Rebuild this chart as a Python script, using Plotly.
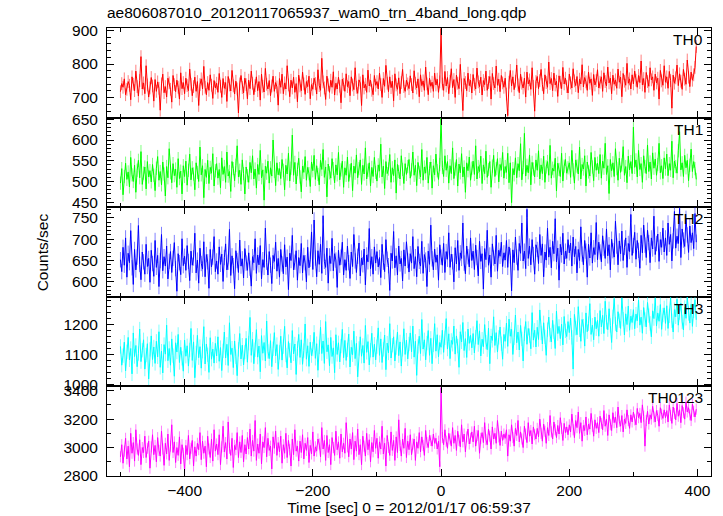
import plotly.graph_objects as go
from plotly.subplots import make_subplots

# ---- data (2 s bins starting at -500 s) ----
T_START = -500
T_STEP = 2

TH0 = [
    718, 742, 731, 756, 709, 725, 748, 737, 694, 762, 740, 721, 779, 733, 705, 751, 822, 726, 744, 712, 795, 738, 702, 729, 760,
    735, 690, 754, 719, 747, 728, 663, 741, 770, 715, 733, 702, 758, 744, 725, 687, 766, 739, 718, 752, 731, 696, 774, 727, 745,
    712, 758, 736, 721, 785, 740, 706, 733, 761, 719, 748, 677, 739, 756, 726, 793, 731, 709, 745, 722, 768, 737, 698, 751, 729,
    743, 716, 772, 734, 701, 757, 728, 745, 689, 763, 738, 720, 781, 735, 711, 749, 726, 655, 741, 766, 730, 714, 758, 739, 697,
    752, 727, 779, 743, 709, 736, 762, 721, 748, 693, 770, 734, 717, 787, 740, 726, 751, 706, 735, 764, 719, 745, 732, 678, 757,
    731, 770, 712, 744, 726, 795, 738, 703, 752, 729, 761, 716, 742, 688, 767, 735, 721, 776, 741, 710, 748, 733, 764, 697, 739,
    725, 758, 742, 711, 783, 736, 722, 817, 747, 729, 695, 764, 738, 716, 752, 731, 777, 708, 743, 726, 761, 734, 685, 755, 740,
    719, 771, 733, 748, 706, 762, 738, 724, 789, 731, 713, 753, 744, 677, 768, 729, 740, 716, 782, 735, 752, 722, 709, 766, 737,
    748, 726, 773, 739, 701, 757, 734, 796, 743, 718, 762, 730, 749, 691, 771, 738, 725, 759, 712, 745, 784, 733, 719, 752, 741,
    727, 765, 739, 714, 780, 743, 729, 756, 703, 768, 736, 750, 722, 791, 741, 709, 758, 734, 746, 719, 773, 738, 755, 716, 747,
    905, 741, 722, 778, 735, 760, 712, 749, 786, 730, 754, 701, 767, 743, 727, 799, 738, 662, 757, 745, 721, 773, 736, 752, 714,
    769, 740, 726, 788, 747, 733, 761, 708, 751, 739, 779, 722, 745, 763, 696, 772, 742, 729, 794, 737, 755, 718, 766, 744, 731,
    758, 711, 647, 746, 781, 735, 762, 724, 749, 797, 738, 715, 770, 743, 729, 758, 702, 776, 741, 753, 725, 789, 734, 660, 748,
    763, 727, 751, 784, 739, 712, 768, 745, 731, 806, 742, 757, 721, 773, 738, 749, 704, 765, 746, 727, 790, 741, 758, 733, 714,
    770, 744, 729, 786, 750, 736, 763, 715, 755, 741, 798, 732, 760, 747, 722, 776, 743, 756, 707, 769, 738, 751, 783, 729, 746,
    762, 719, 774, 748, 735, 791, 744, 758, 712, 767, 740, 753, 728, 785, 746, 761, 703, 772, 749, 737, 802, 743, 756, 726, 768,
    741, 779, 752, 731, 766, 745, 809, 738, 757, 716, 775, 748, 734, 789, 753, 762, 722, 770, 744, 758, 696, 781, 750, 737, 795,
    746, 762, 728, 778, 751, 669, 767, 743, 759, 797, 736, 771, 749, 725, 784, 755, 740, 812, 761, 733, 776, 752, 768, 790, 852,
]

TH1 = [
    496, 531, 468, 512, 544, 505, 523, 487, 558, 516, 500, 539, 474, 527, 551, 509, 572, 493, 520, 535, 482, 548, 511, 526, 499,
    541, 515, 478, 532, 560, 503, 524, 492, 547, 518, 465, 536, 509, 579, 521, 497, 543, 514, 530, 486, 555, 507, 525, 470, 538,
    512, 549, 491, 527, 566, 504, 533, 518, 480, 545, 522, 500, 583, 516, 538, 461, 529, 510, 551, 495, 534, 520, 567, 489, 526,
    543, 508, 529, 485, 557, 517, 536, 498, 571, 513, 524, 476, 548, 531, 502, 539, 586, 511, 527, 493, 552, 519, 470, 535, 514,
    498, 546, 521, 562, 506, 530, 484, 541, 517, 575, 509, 528, 455, 537, 520, 549, 496, 533, 513, 600, 524, 490, 545, 516, 531,
    507, 553, 527, 480, 539, 518, 568, 501, 532, 612, 515, 546, 494, 529, 556, 511, 475, 537, 522, 560, 503, 534, 519, 488, 547,
    526, 563, 505, 538, 517, 492, 551, 529, 577, 510, 535, 463, 542, 521, 508, 555, 531, 497, 540, 516, 570, 504, 528, 549, 486,
    533, 515, 559, 500, 526, 544, 478, 537, 520, 564, 509, 531, 552, 493, 539, 518, 581, 506, 527, 545, 489, 534, 512, 558, 522,
    501, 540, 525, 590, 511, 537, 483, 548, 519, 530, 565, 498, 533, 514, 552, 472, 541, 524, 506, 562, 529, 495, 543, 517, 536,
    553, 508, 528, 571, 515, 539, 490, 546, 522, 511, 577, 503, 535, 520, 558, 496, 531, 547, 484, 538, 516, 566, 526, 505, 541,
    655, 534, 512, 562, 527, 548, 496, 538, 519, 581, 507, 530, 553, 489, 542, 521, 567, 511, 535, 474, 545, 526, 559, 503, 532,
    549, 517, 586, 506, 536, 524, 561, 495, 540, 519, 573, 510, 529, 548, 486, 537, 563, 512, 531, 555, 499, 541, 527, 570, 508,
    536, 522, 568, 497, 545, 449, 531, 516, 557, 509, 543, 526, 591, 504, 534, 616, 513, 539, 521, 564, 492, 546, 530, 511, 552,
    527, 574, 506, 540, 519, 561, 498, 535, 548, 515, 587, 508, 532, 525, 556, 477, 544, 529, 512, 568, 501, 537, 553, 520, 533,
    545, 510, 575, 528, 496, 552, 537, 518, 583, 506, 541, 530, 562, 489, 547, 523, 513, 570, 535, 502, 558, 527, 544, 519, 565,
    508, 549, 532, 592, 517, 538, 471, 553, 526, 545, 512, 579, 531, 503, 556, 522, 540, 584, 515, 536, 497, 561, 528, 548, 519,
    631, 534, 552, 511, 575, 529, 543, 498, 562, 536, 519, 588, 524, 547, 506, 569, 532, 554, 515, 541, 592, 521, 538, 507, 557,
    530, 566, 514, 543, 527, 597, 509, 549, 536, 520, 574, 620, 528, 545, 512, 563, 533, 551, 502, 539, 578, 524, 548, 531, 505,
]

TH2 = [
    652, 624, 681, 639, 703, 611, 667, 645, 720, 633, 594, 676, 628, 658, 732, 641, 605, 670, 647, 618, 688, 636, 655, 599, 674,
    643, 613, 697, 634, 662, 589, 650, 711, 626, 659, 637, 684, 607, 648, 671, 622, 655, 692, 631, 578, 666, 645, 617, 701, 638,
    660, 627, 685, 648, 603, 672, 639, 656, 714, 621, 651, 597, 679, 643, 630, 694, 612, 664, 647, 585, 676, 635, 658, 706, 624,
    649, 618, 682, 641, 665, 601, 657, 689, 628, 646, 723, 615, 661, 638, 584, 673, 650, 622, 698, 637, 654, 609, 678, 644, 627,
    668, 632, 590, 659, 645, 701, 620, 663, 640, 685, 607, 652, 634, 726, 646, 616, 671, 639, 596, 662, 648, 693, 625, 655, 611,
    676, 642, 619, 687, 635, 658, 582, 667, 650, 709, 628, 646, 673, 604, 657, 638, 690, 621, 662, 645, 600, 681, 633, 653, 717,
    629, 745, 656, 612, 673, 641, 688, 620, 755, 648, 634, 679, 597, 661, 643, 702, 626, 666, 651, 587, 674, 639, 658, 693, 616,
    652, 627, 684, 645, 608, 670, 636, 711, 649, 622, 660, 691, 614, 656, 640, 677, 593, 663, 647, 725, 631, 659, 618, 682, 644,
    671, 635, 657, 610, 688, 646, 624, 699, 653, 638, 580, 667, 649, 718, 633, 661, 616, 684, 642, 655, 602, 675, 637, 694, 650,
    623, 666, 644, 706, 631, 659, 612, 683, 648, 637, 695, 620, 664, 651, 589, 672, 641, 733, 654, 628, 677, 646, 663, 604, 687,
    658, 639, 690, 622, 671, 653, 715, 634, 665, 647, 600, 680, 642, 697, 627, 668, 655, 738, 644, 619, 684, 659, 635, 703, 650,
    672, 629, 686, 657, 614, 695, 648, 666, 583, 678, 652, 721, 639, 663, 611, 689, 656, 642, 709, 625, 674, 660, 693, 636, 668,
    651, 697, 634, 682, 661, 579, 675, 645, 705, 658, 627, 690, 667, 738, 649, 672, 631, 770, 655, 684, 640, 699, 664, 618, 687,
    676, 643, 711, 662, 689, 612, 670, 651, 726, 658, 681, 633, 695, 666, 748, 647, 679, 604, 688, 663, 714, 642, 672, 655, 699,
    668, 691, 637, 705, 659, 683, 621, 676, 650, 729, 665, 640, 697, 672, 611, 688, 656, 715, 644, 680, 664, 739, 652, 693, 670,
    647, 708, 679, 655, 724, 661, 687, 628, 700, 673, 658, 742, 684, 640, 696, 666, 719, 650, 681, 703, 634, 690, 671, 758, 662,
    685, 716, 653, 697, 674, 632, 709, 668, 733, 686, 657, 721, 692, 645, 703, 677, 754, 664, 690, 712, 648, 699, 681, 726, 670,
    703, 662, 738, 688, 711, 649, 696, 765, 679, 707, 690, 772, 657, 724, 698, 683, 749, 710, 669, 731, 692, 715, 678, 760, 693,
]

TH3 = [
    1128, 1065, 1097, 1142, 1046, 1110, 1158, 1083, 1121, 1036, 1173, 1094, 1131, 1060, 1104, 1186, 1077, 1115, 1150, 1052, 1099, 1137, 1019, 1118, 1163,
    1084, 1126, 1071, 1145, 1093, 1177, 1058, 1112, 1039, 1134, 1102, 1199, 1080, 1121, 1065, 1153, 1097, 1028, 1140, 1109, 1168, 1074, 1125, 1088, 1045,
    1149, 1095, 1130, 1062, 1116, 1188, 1081, 1143, 1023, 1106, 1165, 1090, 1127, 1055, 1112, 1194, 1069, 1136, 1100, 1041, 1157, 1085, 1119, 1072, 1138,
    1096, 1160, 1078, 1124, 1047, 1113, 1176, 1089, 1135, 1064, 1207, 1101, 1122, 1057, 1146, 1093, 1030, 1118, 1171, 1086, 1132, 1066, 1109, 1155, 1075,
    1139, 1225, 1098, 1152, 1070, 1117, 1184, 1092, 1129, 1043, 1164, 1105, 1141, 1079, 1213, 1111, 1087, 1147, 1060, 1120, 1174, 1096, 1134, 1051, 1108,
    1162, 1082, 1127, 1195, 1099, 1056, 1144, 1115, 1073, 1181, 1103, 1136, 1034, 1121, 1168, 1091, 1150, 1068, 1114, 1203, 1085, 1130, 1061, 1142, 1097,
    1119, 1175, 1088, 1137, 1048, 1126, 1192, 1104, 1146, 1071, 1211, 1110, 1133, 1063, 1158, 1094, 1123, 1040, 1167, 1101, 1140, 1076, 1129, 1185, 1090,
    1148, 1081, 1116, 1169, 1059, 1125, 1100, 1179, 1087, 1138, 1026, 1121, 1160, 1095, 1131, 1072, 1198, 1108, 1144, 1066, 1115, 1172, 1092, 1135, 1083,
    1127, 1190, 1098, 1153, 1074, 1118, 1166, 1050, 1139, 1106, 1204, 1089, 1132, 1160, 1079, 1124, 1176, 1097, 1143, 1062, 1118, 1187, 1101, 1149, 1086,
    1136, 1173, 1110, 1196, 1092, 1145, 1031, 1128, 1162, 1104, 1218, 1119, 1150, 1083, 1139, 1181, 1098, 1155, 1070, 1133, 1204, 1112, 1167, 1093, 1141,
    1125, 1182, 1108, 1157, 1221, 1119, 1170, 1087, 1148, 1135, 1196, 1102, 1163, 1129, 1058, 1177, 1143, 1208, 1114, 1154, 1091, 1186, 1138, 1165, 1123,
    1171, 1106, 1159, 1214, 1134, 1180, 1096, 1152, 1127, 1201, 1142, 1117, 1189, 1070, 1163, 1148, 1227, 1131, 1174, 1109, 1158, 1193, 1137, 1085, 1168,
    1145, 1206, 1128, 1219, 1162, 1185, 1101, 1157, 1233, 1140, 1176, 1116, 1198, 1153, 1079, 1170, 1211, 1135, 1188, 1164, 1120, 1241, 1149, 1182, 1126,
    1192, 1151, 1250, 1173, 1136, 1207, 1160, 1098, 1184, 1226, 1166, 1143, 1215, 1177, 1121, 1246, 1171, 1195, 1154, 1202, 1133, 1228, 1180, 1161, 1211,
    1174, 1223, 1158, 1052, 1235, 1189, 1167, 1261, 1183, 1145, 1218, 1196, 1129, 1240, 1177, 1204, 1271, 1168, 1199, 1150, 1226, 1187, 1215, 1162, 1248,
    1193, 1232, 1171, 1279, 1209, 1184, 1254, 1198, 1141, 1227, 1288, 1203, 1176, 1244, 1214, 1188, 1290, 1219, 1166, 1237, 1201, 1263, 1182, 1229, 1208,
    1251, 1187, 1236, 1214, 1283, 1199, 1226, 1172, 1258, 1218, 1193, 1275, 1231, 1205, 1160, 1247, 1221, 1289, 1196, 1240, 1212, 1268, 1185, 1233, 1257,
    1205, 1264, 1188, 1230, 1291, 1214, 1176, 1251, 1227, 1286, 1199, 1241, 1273, 1210, 1183, 1258, 1222, 1292, 1238, 1206, 1269, 1195, 1247, 1284, 1217,
]

TH0123 = [
    2935, 3020, 2890, 2975, 3065, 2920, 3010, 2865, 3100, 2960, 3035, 2905, 3125, 2990, 2945, 3055, 2880, 3000, 2965, 3080, 2930, 2995, 3045, 2855, 3005,
    3090, 2950, 3015, 2900, 3070, 2980, 2940, 3115, 2990, 2875, 3030, 2955, 3095, 2910, 3010, 3160, 2965, 3040, 2895, 3000, 2945, 3075, 2885, 3020, 2960,
    2840, 3015, 2950, 3085, 2920, 2995, 3050, 2870, 3005, 2940, 3030, 2985, 3105, 2915, 3045, 2960, 3010, 2865, 3080, 2990, 2930, 3060, 2905, 3125, 2975,
    3025, 2950, 3090, 2880, 3005, 3150, 2970, 3035, 2920, 3180, 2995, 2945, 3065, 2860, 3015, 2985, 3105, 2930, 3040, 2965, 3085, 2900, 3020, 2955, 3070,
    2990, 3130, 2940, 3050, 2975, 3190, 2910, 3025, 2960, 3095, 2885, 3040, 3000, 3140, 2935, 3065, 2980, 3010, 2850, 3075, 2995, 3115, 2945, 3035, 2970,
    3080, 2890, 3020, 2960, 3100, 2930, 3050, 2985, 2870, 3060, 2950, 3125, 2975, 3010, 2905, 3045, 2965, 3090, 2920, 3030, 2980, 3070, 2895, 3015, 2955,
    3110, 2940, 3005, 2975, 3060, 3025, 2935, 3140, 2990, 3050, 2910, 3085, 2965, 3020, 2880, 3070, 3000, 2945, 3115, 2985, 3040, 2925, 3095, 2970, 3030,
    2960, 3175, 3005, 2935, 3060, 2990, 3105, 2915, 3045, 2975, 3130, 2950, 3020, 2880, 3080, 3010, 2940, 3100, 2985, 3055, 2900, 3035, 2970, 3120, 2995,
    3065, 2925, 3040, 2990, 3150, 2955, 3030, 2870, 3085, 3000, 2945, 3110, 2980, 3050, 2910, 3075, 2965, 3195, 3015, 2940, 3060, 2995, 3135, 2930, 3045,
    2985, 3090, 2950, 3025, 3060, 2910, 3040, 2995, 3105, 2970, 3075, 3015, 2945, 3120, 3035, 3000, 3085, 3050, 3010, 3095, 3030, 3065, 2990, 3045, 2865,
    3420, 3070, 3020, 3125, 3045, 2995, 3100, 3060, 3010, 3140, 3030, 3085, 2980, 3115, 3050, 3005, 3160, 3040, 3095, 2970, 3075, 3130, 3025, 3065, 3110,
    3040, 3150, 3010, 3085, 3120, 2960, 3065, 3105, 3035, 3175, 3055, 3020, 3130, 3080, 2990, 3145, 3060, 3100, 3030, 3190, 3075, 3015, 3115, 3050, 3095,
    3065, 3125, 2940, 3090, 3045, 3160, 3070, 3010, 3135, 3085, 3190, 3040, 3110, 3060, 3000, 3150, 3095, 3035, 3175, 3080, 3120, 3025, 3145, 3090, 3060,
    3135, 3075, 3200, 3100, 3045, 3165, 3115, 3030, 3140, 3085, 3225, 3110, 3060, 3180, 3125, 3070, 3155, 3095, 3210, 3135, 3050, 3170, 3105, 3145, 3090,
    3160, 3110, 3235, 3125, 3070, 3190, 3140, 3250, 3100, 3175, 3045, 3155, 3120, 3215, 3090, 3165, 3130, 3240, 3150, 3080, 3195, 3135, 3175, 3105, 3220,
    3170, 3125, 3260, 3150, 3200, 3085, 3230, 3160, 3120, 3245, 3175, 3215, 3140, 3285, 3185, 3150, 3225, 3110, 3200, 3170, 3265, 3190, 3135, 3230, 3180,
    3250, 3195, 3160, 3275, 3210, 3240, 3175, 3300, 3220, 3010, 3190, 3255, 3165, 3230, 3200, 3290, 3215, 3180, 3260, 3225, 3150, 3280, 3235, 3205, 3265,
    3210, 3260, 3180, 3300, 3225, 3170, 3285, 3240, 3195, 3310, 3220, 3265, 3175, 3295, 3245, 3200, 3320, 3250, 3280, 3230, 3190, 3305, 3255, 3215, 3270,
]

# approximate 1-sigma error bar half-length per band (counts/sec)
ERRORS = [19, 16, 18, 24, 39]
LABELS = ["TH0", "TH1", "TH2", "TH3", "TH0123"]
SERIES = [TH0, TH1, TH2, TH3, TH0123]

# ---- styling ----
COLORS = ["#ff0000", "#00ff00", "#0000ff", "#00ffff", "#ff00ff"]
ERR_COLORS = ["rgba(255,0,0,0.5)", "rgba(0,255,0,0.5)", "rgba(0,0,255,0.5)",
              "rgba(0,255,255,0.5)", "rgba(255,0,255,0.5)"]
Y_RANGES = [[641, 907], [438, 654], [565, 775], [994, 1294], [2800, 3430]]
Y_DTICK = [100, 50, 50, 100, 200]
Y_MINOR = [20, 10, 10, 20, 100]
FONT = "Liberation Sans, Arial, Helvetica, sans-serif"
FS = 15.5

fig = make_subplots(rows=5, cols=1, shared_xaxes=True, vertical_spacing=0)

for k, (ys, lab) in enumerate(zip(SERIES, LABELS)):
    times = [T_START + T_STEP * i for i in range(len(ys))]
    fig.add_trace(go.Scatter(
        x=times, y=ys, mode="lines", name=lab,
        line=dict(color=COLORS[k], width=1),
        error_y=dict(type="constant", value=ERRORS[k], color=ERR_COLORS[k],
                     thickness=1, width=0),
        showlegend=False,
    ), row=k + 1, col=1)

    fig.update_yaxes(
        range=Y_RANGES[k], dtick=Y_DTICK[k], tick0=0, automargin=False,
        showline=True, linecolor="black", linewidth=1, mirror="allticks",
        ticks="inside", ticklen=7, tickcolor="black", tickwidth=1,
        minor=dict(dtick=Y_MINOR[k], tick0=0, ticks="inside", ticklen=4,
                   tickcolor="black", tickwidth=1, showgrid=False),
        showgrid=False, zeroline=False, ticklabelstandoff=5,
        tickfont=dict(family=FONT, size=FS, color="black"),
        row=k + 1, col=1,
    )
    fig.update_xaxes(
        range=[-521, 421], dtick=200, tick0=0, automargin=False,
        showline=True, linecolor="black", linewidth=1, mirror="allticks",
        ticks="inside", ticklen=7, tickcolor="black", tickwidth=1,
        minor=dict(dtick=100, tick0=0, ticks="inside", ticklen=4,
                   tickcolor="black", tickwidth=1, showgrid=False),
        showgrid=False, zeroline=False,
        tickfont=dict(family=FONT, size=FS, color="black"),
        row=k + 1, col=1,
    )
    fig.add_annotation(
        text=lab, xref=f"x{'' if k == 0 else k + 1} domain",
        yref=f"y{'' if k == 0 else k + 1} domain",
        x=1, y=1, xanchor="right", yanchor="top", xshift=-6, yshift=-1,
        showarrow=False, font=dict(family=FONT, size=FS, color="black"),
    )

fig.update_xaxes(
    title=dict(text="Time [sec] 0 = 2012/01/17 06:59:37",
               font=dict(family=FONT, size=FS, color="black"), standoff=2),
    row=5, col=1,
)

fig.add_annotation(
    text="Counts/sec", xref="paper", yref="paper", x=-0.107, y=0.5,
    xanchor="center", yanchor="middle", textangle=-90, showarrow=False,
    font=dict(family=FONT, size=FS, color="black"),
)

fig.update_layout(
    width=723, height=516,
    margin=dict(l=107, r=12, t=28, b=40, autoexpand=False),
    plot_bgcolor="white", paper_bgcolor="white",
    title=dict(text="ae806087010_20120117065937_wam0_trn_4band_long.qdp",
               x=0, xref="paper", xanchor="left",
               y=1 - 13 / 516, yref="container", yanchor="middle",
               font=dict(family=FONT, size=FS, color="black")),
    font=dict(family=FONT, color="black"),
)

fig.write_html(
    "out.html",
    config={"displayModeBar": False},
    post_script="document.body.style.margin='0';document.body.style.overflow='hidden';",
)
